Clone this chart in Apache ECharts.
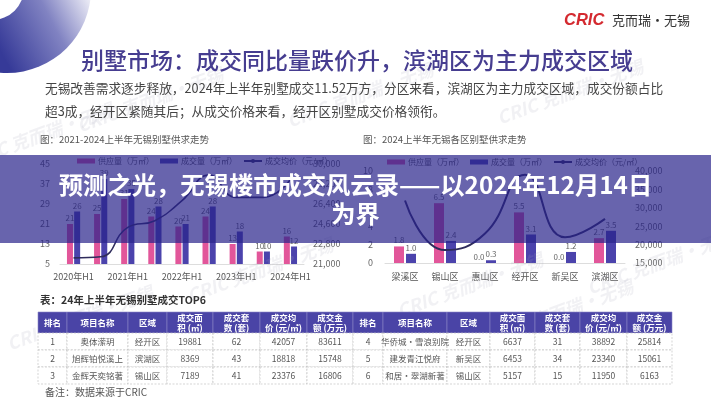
<!DOCTYPE html>
<html><head><meta charset="utf-8">
<script src="https://cdn.jsdelivr.net/npm/echarts@6/dist/echarts.min.js"></script>
<style>html,body{margin:0;padding:0;background:#fff}#c{width:711px;height:400px}</style>
</head><body><div id="c"></div>
<script>
const FONT = '"Noto Sans CJK SC","Noto Sans",sans-serif';
// left chart data
const leftCats = ['2020年H1','2020年H2','2021年H1','2021年H2','2022年H1','2022年H2','2023年H1','2023年H2','2024年H1'];
const leftSupply = [21,25,31,24,20,24,13,10,16];
const leftDeal = [26,39,35,28,21,28,18,10,12];
const leftPrice = [21550,21650,24300,24900,26700,29000,27000,27000,28600];
// right chart data
const rightCats = ['梁溪区','锡山区','惠山区','经开区','新吴区','滨湖区'];
const rightSupply = [1.8,6.5,0.0,5.5,0.0,2.7];
const rightDeal = [1.0,2.4,0.3,3.1,1.2,3.5];
const rightPrice = [32000,18500,23000,39000,22000,27000];
// table data
const tableHeaders = ['排名','项目名称','区域','成交面\n积 (㎡)','成交套\n数 (套)','成交均\n价 (元/㎡)','成交金\n额 (万元)'];
const ranks = ['1','2','3','4','5','6'];
const projects = ['奥体潆玥','旭辉铂悦溪上','金辉天奕铭著','华侨城·雪浪别院','建发青江悦府','和居·翠湖新著'];
const districts = ['经开区','滨湖区','锡山区','经开区','新吴区','锡山区'];
const areas = ['19881','8369','7189','6637','6453','5157'];
const units = ['62','43','41','31','34','15'];
const avgPrices = ['42057','18818','23376','38892','23340','11950'];
const amounts = ['83611','15748','16806','25814','15061','6163'];

const SUP = '#e2569a', DEAL = '#4b43ac';
const chart = echarts.init(document.getElementById('c'));

const g = [];
// faint watermarks
const wm = [[150,100],[360,95],[570,92],[40,135],[260,270],[470,285],[660,262],[80,318],[560,312]];
wm.forEach(p=>{
  g.push({type:'text', x:p[0], y:p[1], rotation:0.35, style:{text:'CRIC 克而瑞·无锡', x:0, y:0, textAlign:'center', textVerticalAlign:'middle', fill:'rgba(170,170,185,0.16)', font:'italic bold 18px '+FONT}, z:3});
});
// decorative circle
g.push({type:'circle', shape:{cx:7, cy:-11, r:84}, style:{fill:new echarts.graphic.LinearGradient(0,50,95,0,[{offset:0,color:'#363a98'},{offset:0.55,color:'#8183c2'},{offset:1,color:'#f6f6fb'}],true)}, z:1});
g.push({type:'circle', shape:{cx:-8, cy:-12, r:32}, style:{fill:'#fff'}, z:2});
// logo
g.push({type:'text', style:{text:'CRIC', x:564, y:20, textVerticalAlign:'middle', fill:'#d42a30', font:'italic bold 16.5px "Liberation Sans",sans-serif'}, z:5});
g.push({type:'text', style:{text:'克而瑞·无锡', x:612, y:20, textVerticalAlign:'middle', fill:'#333', font:'13px '+FONT}, z:5});
// titles
g.push({type:'text', style:{text:'别墅市场：成交同比量跌价升，滨湖区为主力成交区域', x:357, y:60, textAlign:'center', textVerticalAlign:'middle', fill:'#463d90', font:'500 23px '+FONT}, z:5});
g.push({type:'text', style:{text:'无锡改善需求逐步释放，2024年上半年别墅成交11.52万方，分区来看，滨湖区为主力成交区域，成交份额占比', x:45, y:88, textVerticalAlign:'middle', fill:'#444', font:'12.7px '+FONT}, z:5});
g.push({type:'text', style:{text:'超3成，经开区紧随其后；从成交价格来看，经开区别墅成交价格领衔。', x:45, y:111, textVerticalAlign:'middle', fill:'#444', font:'12.7px '+FONT}, z:5});
g.push({type:'text', style:{text:'图：2021-2024上半年无锡别墅供求走势', x:40, y:139, textVerticalAlign:'middle', fill:'#555', font:'9.5px '+FONT}, z:5});
g.push({type:'text', style:{text:'图：2024上半年无锡各区别墅供求走势', x:363, y:139, textVerticalAlign:'middle', fill:'#555', font:'9.5px '+FONT}, z:5});
// table
g.push({type:'text', style:{text:'表：24年上半年无锡别墅成交TOP6', x:40, y:300, textVerticalAlign:'middle', fill:'#333', font:'bold 10.5px '+FONT}, z:5});
g.push({type:'text', style:{text:'备注：数据来源于CRIC', x:45, y:392, textVerticalAlign:'middle', fill:'#555', font:'10px '+FONT}, z:5});
const colL = [38,67,128,167,213,260,307,353];
const colR = [353,383,447,490,535,580,627,672];
const hTop = 312, hH = 21, rH = 17;
function drawTable(cols, start){
  for (let c=0;c<7;c++){
    const x = cols[c], w = cols[c+1]-cols[c];
    g.push({type:'rect', shape:{x:x, y:hTop, width:w, height:hH}, style:{fill:'#4a44a6', stroke:'#8a86c8', lineWidth:0.6}, z:5});
    g.push({type:'text', style:{text:tableHeaders[c], x:x+w/2, y:hTop+hH/2, textAlign:'center', textVerticalAlign:'middle', fill:'#fff', font:'bold 8.5px '+FONT, lineHeight:10}, z:6});
    for (let r=0;r<3;r++){
      const i = start+r;
      const vals = [ranks[i],projects[i],districts[i],areas[i],units[i],avgPrices[i],amounts[i]];
      const y = hTop+hH+r*rH;
      g.push({type:'rect', shape:{x:x, y:y, width:w, height:rH}, style:{fill:'#fff', stroke:'#bbb', lineWidth:0.6, lineDash:[2,1.5]}, z:5});
      g.push({type:'text', style:{text:vals[c], x:x+w/2, y:y+rH/2, textAlign:'center', textVerticalAlign:'middle', fill:'#555', font:'8.5px '+FONT}, z:6});
    }
  }
}
drawTable(colL,0);
drawTable(colR,3);
// overlay band + headline
g.push({type:'rect', shape:{x:0, y:155, width:711, height:88}, style:{fill:'rgba(40,34,138,0.70)'}, z:100});
g.push({type:'text', style:{text:'预测之光，无锡楼市成交风云录——以2024年12月14日\n为界', x:355.5, y:199, textAlign:'center', textVerticalAlign:'middle', fill:'#fff', font:'bold 24.3px '+FONT, lineHeight:29}, z:101});

const lblStyle = {show:true, position:'top', fontSize:8, color:'#666', distance:2, fontFamily:FONT};
const legendCommon = {itemWidth:18, itemHeight:5, itemGap:6, textStyle:{fontSize:8, color:'#555', fontFamily:FONT, padding:[0,0,0,-2]}, selectedMode:false, data:[{name:'供应量（万㎡）',icon:'rect'},{name:'成交量（万㎡）',icon:'rect'},{name:'成交均价（元/㎡）'}]};

chart.setOption({
  animation:false,
  textStyle:{fontFamily:FONT},
  graphic:{elements:g},
  legend:[Object.assign({left:72, top:152}, legendCommon), Object.assign({left:382, top:153}, legendCommon)],
  grid:[{left:60, top:164, width:244, height:100},{left:385, top:171, width:240, height:92}],
  xAxis:[
    {type:'category', gridIndex:0, data:leftCats, axisTick:{show:false}, axisLine:{lineStyle:{color:'#ddd'}}, axisLabel:{interval:1, fontSize:9, color:'#555', margin:8}},
    {type:'category', gridIndex:1, data:rightCats, axisTick:{show:false}, axisLine:{lineStyle:{color:'#ddd'}}, axisLabel:{fontSize:9, color:'#555', margin:9}}
  ],
  yAxis:[
    {type:'value', gridIndex:0, min:5, max:45, interval:8, splitLine:{show:false}, axisLabel:{fontSize:9, color:'#666', margin:10}},
    {type:'value', gridIndex:0, position:'right', min:21000, max:30000, interval:1800, splitLine:{show:false}, axisLabel:{fontSize:9, color:'#666', margin:9}},
    {type:'value', gridIndex:1, min:0, max:10, interval:2, splitLine:{show:false}, axisLabel:{fontSize:9, color:'#666', margin:12}},
    {type:'value', gridIndex:1, position:'right', min:15000, max:40000, interval:5000, splitLine:{show:false}, axisLabel:{fontSize:9, color:'#666', margin:10}}
  ],
  series:[
    {name:'供应量（万㎡）', type:'bar', xAxisIndex:0, yAxisIndex:0, data:leftSupply, barWidth:6, barGap:'20%', itemStyle:{color:SUP}, label:lblStyle},
    {name:'成交量（万㎡）', type:'bar', xAxisIndex:0, yAxisIndex:0, data:leftDeal, barWidth:6, barGap:'20%', itemStyle:{color:DEAL}, label:lblStyle},
    {name:'成交均价（元/㎡）', type:'line', xAxisIndex:0, yAxisIndex:1, data:leftPrice, smooth:0.5, symbol:'none', lineStyle:{color:'#2f2c5c', width:1.6}, itemStyle:{color:'#2f2c5c'}, z:3},
    {name:'供应量（万㎡）', type:'bar', xAxisIndex:1, yAxisIndex:2, data:rightSupply, barWidth:10, barGap:'20%', itemStyle:{color:SUP}, label:Object.assign({}, lblStyle, {formatter:p=>p.value.toFixed(1)})},
    {name:'成交量（万㎡）', type:'bar', xAxisIndex:1, yAxisIndex:2, data:rightDeal, barWidth:10, barGap:'20%', itemStyle:{color:DEAL}, label:Object.assign({}, lblStyle, {formatter:p=>p.value.toFixed(1)})},
    {name:'成交均价（元/㎡）', type:'line', xAxisIndex:1, yAxisIndex:3, data:rightPrice, smooth:0.5, symbol:'none', lineStyle:{color:'#2f2c5c', width:2}, itemStyle:{color:'#2f2c5c'}, z:3}
  ]
});
</script></body></html>
